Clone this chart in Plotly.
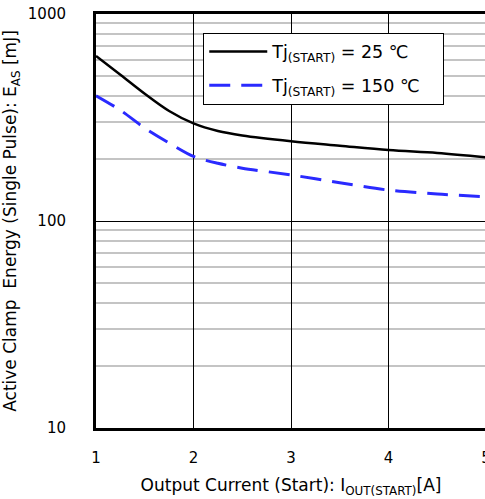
import plotly.graph_objects as go

current = [1.0, 1.25, 1.5, 1.75, 2.0, 2.25, 2.5, 3.0, 3.5, 4.0, 4.5, 5.0]
eas_25 = [627, 509, 412, 340, 296, 272, 259, 243, 231, 220, 213, 203]
eas_150 = [403, 343, 281, 238, 205, 190, 180, 167, 153, 141, 135, 131]

x_ticks = [1, 2, 3, 4, 5]
y_ticks = [10, 100, 1000]
y_minor = [20, 30, 40, 50, 60, 70, 80, 90, 200, 300, 400, 500, 600, 700, 800, 900]

FONT = "DejaVu Sans"

fig = go.Figure()
fig.add_trace(go.Scatter(x=current, y=eas_25, mode="lines", line_shape="spline",
                         line=dict(color="black", width=2.5, smoothing=1.0),
                         legendgroup="a",
                         name="Tj<sub>(START)</sub> = 25 ℃   "))
fig.add_trace(go.Scatter(x=current, y=eas_150, mode="lines", line_shape="spline",
                         line=dict(color="#2a2aff", width=3, dash="21px,11px", smoothing=0.8),
                         legendgroup="b",
                         name="Tj<sub>(START)</sub> = 150 ℃   "))

fig.update_layout(
    width=496, height=499,
    margin=dict(l=96, r=10, t=14, b=71),
    paper_bgcolor="white", plot_bgcolor="white",
    font=dict(family=FONT, size=15, color="black"),
    showlegend=True,
    legend=dict(x=0.275, y=0.955, xanchor="left", yanchor="top",
                bgcolor="white", bordercolor="black", borderwidth=1,
                itemwidth=58, tracegroupgap=8, traceorder="grouped",
                font=dict(family=FONT, size=17.5, color="black")),
    xaxis=dict(range=[1, 5], tickvals=x_ticks, ticktext=[str(v) for v in x_ticks],
               showgrid=True, gridcolor="black", gridwidth=1,
               showline=True, linecolor="black", linewidth=3, mirror=True,
               ticks="", ticklabelstandoff=14, zeroline=False, automargin=False,
               title=dict(text="Output Current (Start): I<sub>OUT(START)</sub>[A]",
                          font=dict(family=FONT, size=17), standoff=14)),
    yaxis=dict(type="log", range=[1, 3], tickvals=y_ticks,
               ticktext=[str(v) for v in y_ticks],
               showgrid=True, gridcolor="black", gridwidth=1,
               minor=dict(tickvals=y_minor, showgrid=True, gridcolor="#c4c4c4", gridwidth=1.5, ticks=""),
               showline=True, linecolor="black", linewidth=3, mirror=False,
               ticks="", ticklabelstandoff=24, zeroline=False, automargin=False,
               title=dict(text="Active Clamp  Energy (Single Pulse): E<sub>AS</sub> [mJ]",
                          font=dict(family=FONT, size=17), standoff=9)),
)

fig.write_html("out.html", config={"displayModeBar": False},
               post_script="document.body.style.margin='0';document.body.style.overflow='hidden';")
